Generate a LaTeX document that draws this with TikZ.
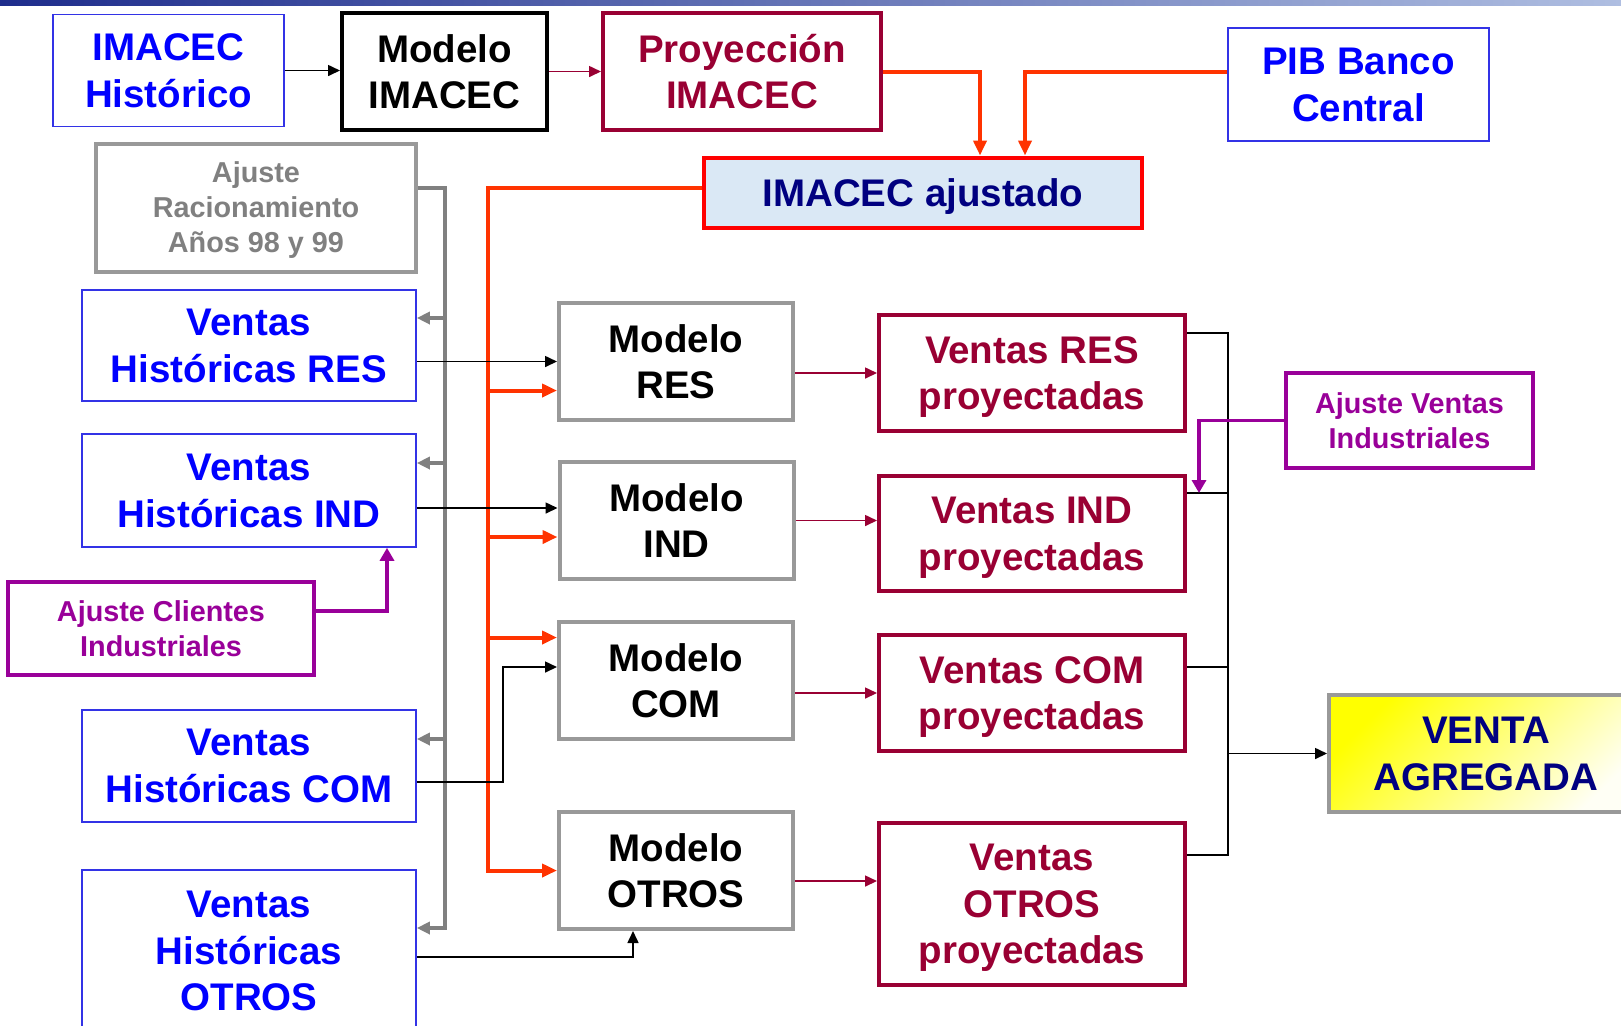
\documentclass[tikz,border=0pt]{standalone}
\usepackage{fontspec}
\setmainfont{Liberation Sans}
\usetikzlibrary{arrows.meta}

\definecolor{histblue}{RGB}{0,0,255}
\definecolor{boxblue}{RGB}{51,51,230}
\definecolor{proyred}{RGB}{153,0,51}
\definecolor{adjpurple}{RGB}{153,0,153}
\definecolor{navytxt}{RGB}{0,0,128}
\definecolor{flowred}{RGB}{255,51,0}
\definecolor{linegray}{RGB}{128,128,128}
\definecolor{boxgray}{RGB}{153,153,153}
\definecolor{paleblue}{RGB}{218,232,245}
\definecolor{barblue}{RGB}{30,45,140}
\definecolor{barlight}{RGB}{175,190,225}

\begin{document}
\begin{tikzpicture}[x=0.5pt, y=-0.5pt,
		big/.style={font=\fontsize{19.25}{23.3}\selectfont\bfseries, align=center, inner sep=0pt, text depth=0pt},
		small/.style={font=\fontsize{14.4}{17.5}\selectfont\bfseries, align=center, inner sep=0pt, text depth=0pt},
		histbox/.style={big, draw=boxblue, line width=0.8pt, text=histblue, minimum width=167pt, minimum height=56pt},
		modbox/.style={big, draw=boxgray, line width=2pt, text=black, minimum width=117pt, minimum height=58.5pt},
		proybox/.style={big, draw=proyred, line width=2pt, text=proyred, minimum width=153pt, minimum height=58pt},
		adjbox/.style={small, draw=adjpurple, line width=1.75pt, text=adjpurple},
		thinarrow/.style={line width=0.8pt, -{Triangle[length=6pt,width=5.5pt]}},
		flowarrow/.style={flowred, line width=2pt, -{Triangle[length=7.5pt,width=6.5pt]}},
		grayarrow/.style={linegray, line width=2pt, -{Triangle[length=6.5pt,width=6pt]}},
		adjarrow/.style={adjpurple, line width=1.8pt, -{Triangle[length=6.5pt,width=7pt]}}]
	\useasboundingbox (0,0) rectangle (1621,1025);
	\shade[left color=barblue, right color=barlight] (0,0) rectangle (1621,5);
	
	\node[histbox, minimum width=115.5pt] (histimacec) at (168.5,70.5) {IMACEC\\Histórico};
	\node[modbox, draw=black, minimum width=102.5pt] (modimacec) at (444.5,71.5) {Modelo\\IMACEC};
	\node[proybox, minimum width=139pt, minimum height=58.5pt] (proyimacec) at (742,71.5) {Proyección\\IMACEC};
	\node[histbox, minimum width=130.5pt, minimum height=56.5pt] (pib) at (1358.5,84.5) {PIB Banco\\Central};
	\node[big, draw=red, line width=2pt, fill=paleblue, text=navytxt, minimum width=219pt, minimum height=35pt] (imacecaj) at (923,192.5) {IMACEC ajustado};
	
	\node[small, draw=boxgray, line width=2pt, text=linegray, minimum width=160pt, minimum height=64pt] (ajracion) at (256,207.5) {Ajuste\\Racionamiento\\Años 98 y 99};
	\node[histbox, minimum height=55.5pt] (histres) at (249,345.5) {Ventas\\Históricas RES};
	\node[histbox, minimum height=56.5pt] (histind) at (249,490.5) {Ventas\\Históricas IND};
	\node[adjbox, minimum width=153pt, minimum height=46.5pt] (ajclientes) at (161,628.5) {Ajuste Clientes\\Industriales};
	\node[histbox] (histcom) at (249,766) {Ventas\\Históricas COM};
	\node[histbox, minimum height=81pt] (histotros) at (249,951) {Ventas\\Históricas\\OTROS};
	
	\node[modbox] (modres) at (676,361.5) {Modelo\\RES};
	\node[modbox] (modind) at (676.5,520.5) {Modelo\\IND};
	\node[modbox] (modcom) at (676,680.5) {Modelo\\COM};
	\node[modbox] (modotros) at (676,870.5) {Modelo\\OTROS};
	
	\node[proybox] (proyres) at (1032,373) {Ventas RES\\proyectadas};
	\node[proybox, minimum height=57.5pt] (proyind) at (1032,533.5) {Ventas IND\\proyectadas};
	\node[proybox] (proycom) at (1032,693) {Ventas COM\\proyectadas};
	\node[proybox, minimum height=81pt] (proyotros) at (1032,904) {Ventas\\OTROS\\proyectadas};
	
	\node[adjbox, minimum width=123.5pt, minimum height=47.5pt] (ajventas) at (1409.5,420.5) {Ajuste Ventas\\Industriales};
	\node[big, draw=boxgray, line width=2pt, text=navytxt, top color=yellow, middle color=yellow!45, bottom color=yellow!4, shading angle=45, minimum width=157pt, minimum height=58.5pt] (ventaagr) at (1486,753.5) {VENTA\\AGREGADA};
	
	\coordinate (proyturn) at (980,0);
	\coordinate (pibturn) at (1025,0);
	\coordinate (rbus) at (488,0);
	\coordinate (gbus) at (445,0);
	\coordinate (comjog) at (503,0);
	\coordinate (otrosjog) at (633,0);
	\coordinate (cljog) at (387,0);
	\coordinate (vbus) at (1228,0);
	\coordinate (ajvx) at (1199,0);
	
	\coordinate (resin) at ([yshift=-14.5pt]modres.west);
	\coordinate (indin) at ([yshift=-8.25pt]modind.west);
	\coordinate (indblk) at ([yshift=6.25pt]modind.west);
	\coordinate (comin) at ([yshift=21.5pt]modcom.west);
	\coordinate (comblk) at ([yshift=6.75pt]modcom.west);
	\coordinate (otrosgray) at ([yshift=11.5pt]histotros.east);
	\coordinate (otrosout) at ([yshift=-5.25pt]modotros.east);
	\coordinate (resagg) at ([yshift=20pt]proyres.east);
	\coordinate (indagg) at ([yshift=20.25pt]proyind.east);
	\coordinate (comagg) at ([yshift=13pt]proycom.east);
	\coordinate (otrosagg) at ([yshift=24.5pt]proyotros.east);
	
	\draw[thinarrow] (histimacec.east) -- (histimacec.east -| modimacec.west);
	\draw[thinarrow, proyred] (modimacec.east) -- (modimacec.east -| proyimacec.west);
	\draw[flowarrow] (proyimacec.east) -| (imacecaj.north -| proyturn);
	\draw[flowarrow] ([yshift=6.5pt]pib.west) -| (imacecaj.north -| pibturn);
	
	\draw[flowarrow] ([yshift=2.25pt]imacecaj.west) -| (rbus |- modotros.west) -- (modotros.west);
	\draw[flowarrow] (resin -| rbus) -- (resin);
	\draw[flowarrow] (indin -| rbus) -- (indin);
	\draw[flowarrow] (comin -| rbus) -- (comin);
	
	\draw[grayarrow] ([yshift=9.75pt]ajracion.east) -| (otrosgray -| gbus) -- (otrosgray);
	\draw[grayarrow] ([yshift=13.75pt]histres.east -| gbus) -- ([yshift=13.75pt]histres.east);
	\draw[grayarrow] ([yshift=13.75pt]histind.east -| gbus) -- ([yshift=13.75pt]histind.east);
	\draw[grayarrow] ([yshift=13.5pt]histcom.east -| gbus) -- ([yshift=13.5pt]histcom.east);
	
	\draw[thinarrow] (modres.west -| histres.east) -- (modres.west);
	\draw[thinarrow] (indblk -| histind.east) -- (indblk);
	\draw[thinarrow] ([yshift=-8pt]histcom.east) -| (comblk -| comjog) -- (comblk);
	\draw[thinarrow] ([yshift=-3pt]histotros.east) -| (modotros.south -| otrosjog);
	\draw[adjarrow] ([yshift=8.75pt]ajclientes.east) -| (histind.south -| cljog);
	
	\draw[thinarrow, proyred] (modres.east |- proyres.west) -- (proyres.west);
	\draw[thinarrow, proyred] (modind.east) -- (modind.east -| proyind.west);
	\draw[thinarrow, proyred] (modcom.east |- proycom.west) -- (proycom.west);
	\draw[thinarrow, proyred] (otrosout) -- (otrosout -| proyotros.west);
	
	\draw[line width=0.8pt] (resagg) -| (otrosagg -| vbus) -- (otrosagg);
	\draw[line width=0.8pt] (indagg) -- (indagg -| vbus);
	\draw[line width=0.8pt] (comagg) -- (comagg -| vbus);
	\draw[thinarrow] (ventaagr.west -| vbus) -- (ventaagr.west);
	\draw[adjarrow] (ajventas.west) -| (indagg -| ajvx);
\end{tikzpicture}
\end{document}
